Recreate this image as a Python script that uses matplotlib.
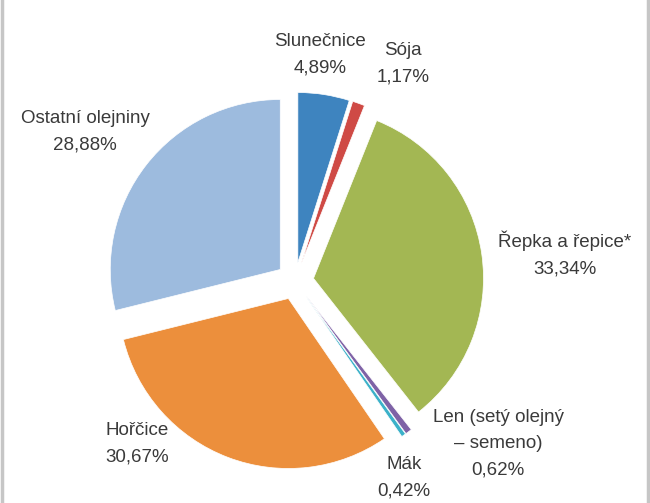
import matplotlib
matplotlib.use("Agg")
import matplotlib.pyplot as plt
from matplotlib.lines import Line2D

plt.rcParams["font.family"] = ["Liberation Sans", "DejaVu Sans"]

labels = ["Slunečnice", "Sója", "Řepka a řepice*", "Len (setý olejný\n– semeno)",
          "Mák", "Hořčice", "Ostatní olejniny"]
shares = [4.89, 1.17, 33.34, 0.62, 0.42, 30.67, 28.88]
colors = ["#3e84bf", "#cf4a45", "#a3b753", "#7e62a6", "#3bb1c9", "#ec8f3c", "#9dbbde"]

# umístění popisků (pixely obrázku, střed bloku textu)
label_pos = [(320, 55), (403, 64), (565, 254), (498, 444), (404, 478), (137, 444), (85, 132)]

W, H = 650, 503
cx, cy, R = 295, 281, 170

fig = plt.figure(figsize=(W / 100, H / 100), dpi=100)
ax = fig.add_axes([0, 0, 1, 1])

ax.pie(shares, colors=colors, startangle=90, counterclock=False,
       explode=[0.11] * len(shares),
       wedgeprops=dict(edgecolor="white", linewidth=0.5))

ax.set_xlim(-cx / R, (W - cx) / R)
ax.set_ylim(-(H - cy) / R, cy / R)
ax.set_aspect("auto")
ax.axis("off")

for lab, val, (px, py) in zip(labels, shares, label_pos):
    txt = f"{lab}\n{val:.2f}%".replace(".", ",")
    ax.text((px - cx) / R, (cy - py) / R, txt, ha="center", va="center",
            fontsize=13.5, color="#3a3a3a", linespacing=1.7)

# okraje rámečku
for x in (1.5 / W, 1 - 2 / W):
    fig.add_artist(Line2D([x, x], [0, 1], transform=fig.transFigure,
                          color="#c6c6c6", linewidth=2.5))

fig.savefig("out.png", dpi=100)
